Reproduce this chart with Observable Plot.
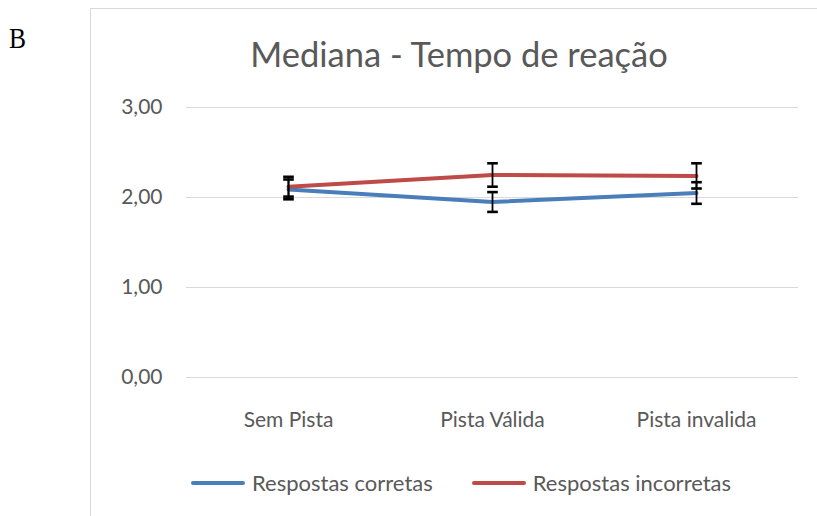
<!DOCTYPE html>
<html><head><meta charset="utf-8">
<script src="https://cdn.jsdelivr.net/npm/d3@7"></script>
<script src="https://cdn.jsdelivr.net/npm/@observablehq/plot@0.6"></script>
<style>
body{margin:0;background:#fff;}
#wrap{position:relative;width:817px;height:516px;overflow:hidden;font-family:Lato,"Open Sans",sans-serif;}
#frame{position:absolute;left:90px;top:8px;width:760px;height:540px;border:1.5px solid #d9d9d9;box-sizing:border-box;pointer-events:none;}
#letter{position:absolute;left:9px;top:24px;font-family:"Liberation Serif","DejaVu Serif",serif;font-size:29px;line-height:1;color:#000;transform:scaleX(0.88);transform-origin:left top;}
#title{position:absolute;left:159px;width:600px;top:33px;text-align:center;font-size:34.5px;line-height:1.2;color:#595959;white-space:nowrap;}
#legend{position:absolute;top:469px;left:191px;font-size:22px;line-height:28px;color:#595959;display:flex;align-items:center;}
#legend .sw{display:inline-block;width:54px;height:4.5px;margin-right:7px;border-radius:2px;}
#legend .item{display:flex;align-items:center;}
#plot{position:absolute;left:0;top:0;}
</style></head>
<body><div id="wrap">
<div id="plot"></div>
<div id="frame"></div>
<div id="letter">B</div>
<div id="title">Mediana - Tempo de reação</div>
<div id="legend"></div>
</div>
<script>
const categories = ["Sem Pista", "Pista Válida", "Pista invalida"];
const seriesNames = ["Respostas corretas", "Respostas incorretas"];
const corretas = [2.09, 1.95, 2.05];
const corretasErr = [0.11, 0.11, 0.12];
const incorretas = [2.12, 2.25, 2.24];
const incorretasErr = [0.11, 0.13, 0.14];
const yTicks = [0, 1, 2, 3];
const colors = ["#4a7ebb", "#be4b48"];

const rows = [];
categories.forEach((c, i) => {
  rows.push({cat: c, series: seriesNames[0], v: corretas[i], e: corretasErr[i]});
  rows.push({cat: c, series: seriesNames[1], v: incorretas[i], e: incorretasErr[i]});
});
const capSymbol = {draw(ctx, size){ const r = Math.sqrt(size) / 2; ctx.moveTo(-r, 0); ctx.lineTo(r, 0); }};
const fmt = d => d.toFixed(2).replace(".", ",");

const chart = Plot.plot({
  width: 817, height: 516,
  marginLeft: 186, marginRight: 19, marginTop: 107, marginBottom: 139,
  style: {background: "transparent", fontFamily: "Lato, 'Open Sans', sans-serif", color: "#595959"},
  x: {type: "point", domain: categories, padding: 0.5, label: null},
  y: {domain: [0, 3], label: null},
  color: {domain: seriesNames, range: colors},
  marks: [
    Plot.ruleY(yTicks, {stroke: "#d9d9d9", strokeWidth: 1.2}),
    Plot.axisX({tickSize: 0, tickPadding: 35, fontSize: 21, fill: "#595959", label: null}),
    Plot.axisY({ticks: yTicks, tickSize: 0, tickPadding: 24, fontSize: 21, fill: "#595959", tickFormat: fmt, label: null}),
    Plot.line(rows, {x: "cat", y: "v", z: "series", stroke: "series", strokeWidth: 4}),
    Plot.ruleX(rows, {x: "cat", y1: d => d.v - d.e, y2: d => d.v + d.e, stroke: "#000", strokeWidth: 1.8}),
    Plot.dot(rows, {x: "cat", y: d => d.v + d.e, symbol: capSymbol, r: 6, stroke: "#000", strokeWidth: 2.6}),
    Plot.dot(rows, {x: "cat", y: d => d.v - d.e, symbol: capSymbol, r: 6, stroke: "#000", strokeWidth: 2.6})
  ]
});
document.getElementById("plot").appendChild(chart);

const leg = document.getElementById("legend");
seriesNames.forEach((s, i) => {
  const it = document.createElement("div"); it.className = "item";
  if (i > 0) it.style.marginLeft = "39px";
  const sw = document.createElement("span"); sw.className = "sw"; sw.style.background = colors[i];
  it.appendChild(sw); it.appendChild(document.createTextNode(s)); leg.appendChild(it);
});
</script>
</body></html>
